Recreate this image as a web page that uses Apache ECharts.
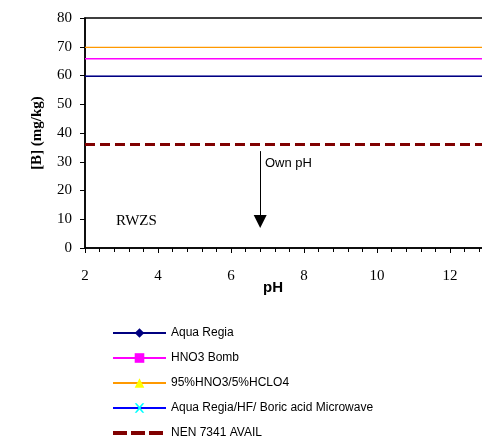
<!DOCTYPE html>
<html><head><meta charset="utf-8">
<script src="https://cdn.jsdelivr.net/npm/echarts@6/dist/echarts.min.js"></script>
<style>html,body{margin:0;padding:0;background:#fff}#c{width:482px;height:446px}</style>
</head><body><div id="c"></div>
<script>
const phRange = [2, 14];
const seriesNames = ['Aqua Regia', 'HNO3 Bomb', '95%HNO3/5%HCLO4', 'Aqua Regia/HF/ Boric acid Microwave', 'NEN 7341 AVAIL'];
const aquaRegia = [59.7, 59.7];
const hno3Bomb = [65.8, 65.8];
const hno3Hclo4 = [69.8, 69.8];
const microwave = [59.7, 59.7];
const nenAvail = [36, 36];
const ownPhArrow = [[6.8, 33.7], [6.8, 9.2]];
const xTicks = [2, 4, 6, 8, 10, 12, 14];
const yTicks = [0, 10, 20, 30, 40, 50, 60, 70, 80];

const pair = v => phRange.map((x, i) => [x, v[i]]);
const xShape = 'path://M0,0 L2,0 L5,3.5 L8,0 L10,0 L6,5 L10,10 L8,10 L5,6.5 L2,10 L0,10 L4,5 Z';

const chart = echarts.init(document.getElementById('c'), null, {renderer: 'canvas'});
chart.setOption({
  animation: false,
  backgroundColor: '#fff',
  grid: {left: 85, top: 18, right: -41, bottom: 198, outerBoundsMode: 'none', containLabel: false,
    show: true, borderColor: '#000', borderWidth: 1.5, backgroundColor: 'transparent'},
  xAxis: {
    type: 'value', min: xTicks[0], max: xTicks[xTicks.length - 1], interval: 2,
    axisLine: {lineStyle: {color: '#000', width: 1.5}},
    axisTick: {show: true, inside: false, length: 5, lineStyle: {color: '#000'}},
    minorTick: {show: true, splitNumber: 5, length: 4, lineStyle: {color: '#000'}},
    splitLine: {show: false},
    axisLabel: {margin: 21, fontFamily: 'Liberation Serif', fontSize: 15, color: '#000'}
  },
  yAxis: {
    type: 'value', min: yTicks[0], max: yTicks[yTicks.length - 1], interval: 10,
    name: '[B] (mg/kg)', nameLocation: 'middle', nameGap: 40,
    nameTextStyle: {fontFamily: 'Liberation Serif', fontWeight: 'bold', fontSize: 15, color: '#000'},
    axisLine: {show: true, lineStyle: {color: '#000', width: 1.5}},
    axisTick: {show: true, length: 5, lineStyle: {color: '#000'}},
    splitLine: {show: false},
    axisLabel: {margin: 13, fontFamily: 'Liberation Serif', fontSize: 15, color: '#000'}
  },
  legend: {
    orient: 'vertical', left: 111, top: 327, padding: 0, itemWidth: 53, itemHeight: 12, itemGap: 13,
    textStyle: {fontFamily: 'Liberation Sans', fontSize: 12, color: '#000'},
    data: [
      seriesNames[0], seriesNames[1], seriesNames[2], seriesNames[3],
      {name: seriesNames[4], itemStyle: {color: 'transparent', borderWidth: 0}, lineStyle: {type: [14, 4], width: 4}}
    ]
  },
  graphic: [
    {type: 'text', left: 263, top: 280, style: {text: 'pH', font: 'bold 15px "Liberation Sans"', fill: '#000'}},
    {type: 'text', left: 116, top: 214, style: {text: 'RWZS', font: '15px "Liberation Serif"', fill: '#000'}},
    {type: 'text', left: 265, top: 157, style: {text: 'Own pH', font: '13px "Liberation Sans"', fill: '#000'}}
  ],
  series: [
    {name: seriesNames[0], type: 'line', data: pair(aquaRegia), showSymbol: false, symbol: 'diamond', symbolSize: 10, z: 4,
      lineStyle: {color: '#000080', width: 1.5}, itemStyle: {color: '#000080'}},
    {name: seriesNames[1], type: 'line', data: pair(hno3Bomb), showSymbol: false, symbol: 'rect', symbolSize: 10,
      lineStyle: {color: '#FF00FF', width: 1.5}, itemStyle: {color: '#FF00FF'}},
    {name: seriesNames[2], type: 'line', data: pair(hno3Hclo4), showSymbol: false, symbol: 'triangle', symbolSize: 11,
      lineStyle: {color: '#FF9900', width: 1.2}, itemStyle: {color: '#FFFF00'}},
    {name: seriesNames[3], type: 'line', data: pair(microwave), showSymbol: false, symbol: xShape, symbolSize: 10,
      lineStyle: {color: '#0000FF', width: 1}, itemStyle: {color: '#00FFFF'}},
    {name: seriesNames[4], type: 'line', data: pair(nenAvail), showSymbol: false, symbol: 'none',
      lineStyle: {color: '#800000', width: 3, type: [10, 5]}, itemStyle: {color: '#800000'},
      markLine: {silent: true, symbol: ['none', 'triangle'], symbolSize: [13, 13],
        label: {show: false}, lineStyle: {color: '#000', width: 1, type: 'solid'},
        data: [[{coord: ownPhArrow[0]}, {coord: ownPhArrow[1]}]]}}
  ]
});
</script></body></html>
